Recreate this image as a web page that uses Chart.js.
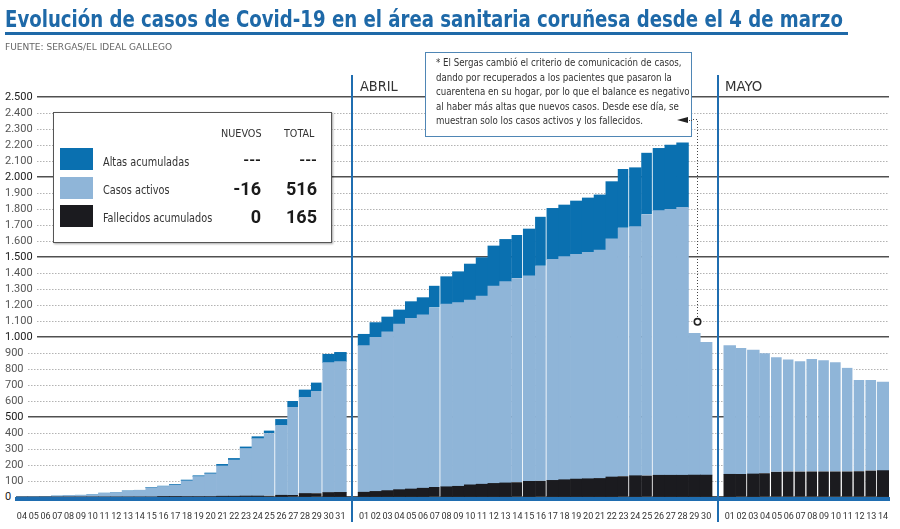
<!DOCTYPE html>
<html lang="es">
<head>
<meta charset="utf-8">
<title>Evolución de casos de Covid-19 en el área sanitaria coruñesa</title>
<script src="https://cdn.jsdelivr.net/npm/chart.js@4.4.1/dist/chart.umd.min.js"></script>
<style>
  html, body { margin: 0; padding: 0; background: #fff; }
  body { width: 900px; height: 529px; position: relative; overflow: hidden;
         font-family: 'Liberation Sans Narrow', 'DejaVu Sans Condensed', Roboto, sans-serif; color: #333; }
  #grafico { position: absolute; left: 0; top: 0; }
  .fit { display: inline-block; transform-origin: 0 0; white-space: nowrap; }
  #titulo { position: absolute; left: 5px; top: 6px; font-weight: bold; font-size: 23px; color: #1e69a8; line-height: 26px; }
  #raya { position: absolute; left: 5px; top: 32px; width: 843px; height: 3px; background: #1e69a8; }
  #fuente { position: absolute; left: 5px; top: 41px; font-size: 9.5px; color: #666; line-height: 12px; }
  .mes { position: absolute; top: 78px; font-size: 14px; color: #333; line-height: 16px; }
  .tick_y { position: absolute; left: 4px; padding: 0 4px 0 1px; background: #fff; font-family: Roboto, sans-serif;
            font-size: 11px; line-height: 14px; color: #555; white-space: nowrap; }
  #leyenda { position: absolute; left: 53px; top: 112px; width: 279px; height: 131px; box-sizing: border-box;
             background: #fff; border: 1px solid #555; box-shadow: 1px 1px 2px rgba(0,0,0,.35); z-index: 2; }
  #leyenda > div { position: absolute; white-space: nowrap; }
  .cab { top: 14px; font-size: 11px; color: #333; line-height: 13px; }
  .muestra { left: 6px; width: 33px; height: 22px; }
  .nombre { left: 49px; font-size: 12px; color: #333; line-height: 16px; }
  .cifra { font-family: Roboto, sans-serif; font-weight: bold; font-size: 18px; color: #1a1a1a;
           text-align: right; line-height: 20px; }
  #nota { position: absolute; left: 425px; top: 52px; width: 267px; height: 85px; box-sizing: border-box;
          background: #fff; border: 1px solid #4f86b5; }
  #nota_texto { position: absolute; left: 10px; top: 3px; font-size: 11px; line-height: 14.5px; color: #333; }
  #flecha { position: absolute; left: 251px; top: 64px; width: 0; height: 0;
            border-right: 11px solid #222; border-top: 3.5px solid transparent; border-bottom: 3.5px solid transparent; }
  #puntos { position: absolute; left: 263px; top: 67px; width: 3px; border-top: 1px dotted #444; }
</style>
</head>
<body>
<canvas id="grafico" width="900" height="529"></canvas>
<div id="titulo" class="fit">Evolución de casos de Covid-19 en el área sanitaria coruñesa desde el 4 de marzo</div>
<div id="raya"></div>
<div id="fuente" class="fit">FUENTE: SERGAS/EL IDEAL GALLEGO</div>
<div id="mes_abril" class="mes fit" style="left:360px">ABRIL</div>
<div id="mes_mayo" class="mes fit" style="left:725px">MAYO</div>

<div id="leyenda">
  <div id="cab_nuevos" class="cab fit" style="left:167px">NUEVOS</div>
  <div id="cab_total" class="cab fit" style="left:230px">TOTAL</div>
  <div class="muestra" style="top:35px;background:#0a70b0"></div>
  <div class="muestra" style="top:64px;background:#8fb5d8"></div>
  <div class="muestra" style="top:92px;background:#1b1b1f"></div>
  <div id="nom_altas" class="nombre fit" style="top:41px">Altas acumuladas</div>
  <div id="nom_activos" class="nombre fit" style="top:69px">Casos activos</div>
  <div id="nom_fallecidos" class="nombre fit" style="top:97px">Fallecidos acumulados</div>
  <div class="cifra" style="left:150px;width:57px;top:37px;font-size:15px">---</div>
  <div class="cifra" style="left:200px;width:63px;top:37px;font-size:15px">---</div>
  <div class="cifra" style="left:150px;width:57px;top:66px">-16</div>
  <div class="cifra" style="left:200px;width:63px;top:66px">516</div>
  <div class="cifra" style="left:150px;width:57px;top:94px">0</div>
  <div class="cifra" style="left:200px;width:63px;top:94px">165</div>
</div>

<div id="nota"><div id="nota_texto" class="fit">* El Sergas cambió el criterio de comunicación de casos,<br>dando por recuperados a los pacientes que pasaron la<br>cuarentena en su hogar, por lo que el balance es negativo<br>al haber más altas que nuevos casos. Desde ese día, se<br>muestran solo los casos activos y los fallecidos.</div><div id="flecha"></div><div id="puntos"></div></div>

<script>
// Días de cada mes (categorías del eje X)
const dias_marzo = ['04','05','06','07','08','09','10','11','12','13','14','15','16','17','18','19','20','21','22','23','24','25','26','27','28','29','30','31'];
const dias_abril = ['01','02','03','04','05','06','07','08','09','10','11','12','13','14','15','16','17','18','19','20','21','22','23','24','25','26','27','28','29','30'];
const dias_mayo = ['01','02','03','04','05','06','07','08','09','10','11','12','13','14'];

// Fallecidos acumulados
const fallecidos_marzo = [0,0,0,0,0,0,0,0,0,0,0,0,2,2,3,3,3,5,5,6,6,8,11,13,22,24,28,29];
const fallecidos_abril = [30,35,40,46,50,55,62,64,67,76,80,85,88,92,98,101,104,108,112,114,116,125,130,133,134,136,136,136,137,137];
const fallecidos_mayo = [142,143,144,148,158,159,159,160,160,160,160,161,165,165];

// Casos activos
const activos_marzo = [2,2,3,6,10,11,14,24,28,38,42,58,64,73,98,125,142,189,226,297,359,390,437,550,601,639,812,817];
const activos_abril = [916,963,993,1035,1067,1083,1123,1142,1148,1155,1176,1234,1258,1275,1285,1344,1381,1394,1405,1415,1428,1488,1553,1557,1633,1654,1662,1674,886,830];
const activos_mayo = [804,788,775,750,715,701,689,702,694,682,648,570,566,554];

// Altas acumuladas (desde el 29 de abril ya no se muestran)
const altas_marzo = [0,0,0,0,0,0,0,0,0,0,0,2,2,4,5,5,5,10,10,10,12,17,37,37,46,52,52,58];
const altas_abril = [71,92,92,88,104,108,136,171,193,225,240,250,264,270,292,307,319,323,333,340,344,358,367,368,385,389,402,404,null,null];
const altas_mayo = [null,null,null,null,null,null,null,null,null,null,null,null,null,null];

// Días tras los que la barra lleva un filete blanco
const cortes_marzo = ['25','27','29'];
const cortes_abril = ['07','14','16','23','25'];
const cortes_mayo = ['02','04','05','06','07','08','09','10','11','12','13'];

const AZUL_OSCURO = '#0a70b0';
const AZUL_CLARO = '#8fb5d8';
const NEGRO = '#1b1b1f';
const AZUL_LINEA = '#1f6db0';

// un hueco vacío entre meses
const etiquetas = [...dias_marzo, '', ...dias_abril, '', ...dias_mayo];
const serie = (m, a, my) => [...m, null, ...a, null, ...my];
const inicio_abril = dias_marzo.length + 1;
const inicio_mayo = inicio_abril + dias_abril.length + 1;
const huecos = [inicio_abril - 1, inicio_mayo - 1];

const cortes = new Set([
  ...cortes_marzo.map(d => dias_marzo.indexOf(d)),
  ...cortes_abril.map(d => inicio_abril + dias_abril.indexOf(d)),
  ...cortes_mayo.map(d => inicio_mayo + dias_mayo.indexOf(d))
]);
const borde = ctx => cortes.has(ctx.dataIndex) ? {top: 0, right: 1.5, bottom: 0, left: 0} : 0;

function miles (v) {
  if (v < 1000) return String(v);
  return Math.floor(v / 1000) + '.' + String(v % 1000).padStart(3, '0');
}

// ajusta un texto al ancho que ocupa en el original
function ajustar (id, ancho) {
  const el = document.getElementById(id);
  const k = ancho / el.offsetWidth;
  el.style.transform = 'scaleX(' + k + ')';
  return k;
}
ajustar('titulo', 838);
ajustar('fuente', 167);
ajustar('mes_abril', 38);
ajustar('mes_mayo', 37);
ajustar('cab_nuevos', 41);
ajustar('cab_total', 30);
ajustar('nota_texto', 254);
const k_nombres = ajustar('nom_fallecidos', 109);
['nom_altas', 'nom_activos'].forEach(id => {
  document.getElementById(id).style.transform = 'scaleX(' + k_nombres + ')';
});

const decorado = {
  id: 'decorado',
  afterDatasetsDraw (chart) {
    const {ctx, chartArea: a, scales: {x, y}} = chart;
    ctx.save();
    // línea base
    ctx.fillStyle = AZUL_LINEA;
    ctx.fillRect(a.left - 1, a.bottom, a.right - a.left + 2, 4);
    // separadores de mes
    huecos.forEach(i => {
      const px = Math.round(x.getPixelForValue(i));
      ctx.fillRect(px - 1, 75, 2, 447);
    });
    // llamada de la nota al 29 de abril
    const cx = Math.round(x.getPixelForValue(inicio_abril + dias_abril.indexOf('29')) + 3) + 0.5;
    const cy = y.getPixelForValue(1095);
    ctx.strokeStyle = '#444';
    ctx.lineWidth = 1;
    ctx.setLineDash([1, 2]);
    ctx.beginPath();
    ctx.moveTo(690, 119.5);
    ctx.lineTo(cx, 119.5);
    ctx.lineTo(cx, cy - 4);
    ctx.stroke();
    ctx.setLineDash([]);
    ctx.beginPath();
    ctx.arc(cx, cy, 3.2, 0, Math.PI * 2);
    ctx.fillStyle = '#fff';
    ctx.fill();
    ctx.lineWidth = 1.6;
    ctx.strokeStyle = '#222';
    ctx.stroke();
    ctx.restore();
  }
};

Chart.defaults.font.family = "Roboto, sans-serif";

const grafico = new Chart(document.getElementById('grafico'), {
  type: 'bar',
  data: {
    labels: etiquetas,
    datasets: [
      {label: 'Fallecidos acumulados', data: serie(fallecidos_marzo, fallecidos_abril, fallecidos_mayo), backgroundColor: NEGRO},
      {label: 'Casos activos', data: serie(activos_marzo, activos_abril, activos_mayo), backgroundColor: AZUL_CLARO},
      {label: 'Altas acumuladas', data: serie(altas_marzo, altas_abril, altas_mayo), backgroundColor: AZUL_OSCURO}
    ].map(d => Object.assign(d, {
      yAxisID: 'y', barPercentage: 1, categoryPercentage: 1,
      borderColor: '#fff', borderWidth: borde, borderSkipped: false
    }))
  },
  options: {
    responsive: false,
    animation: false,
    events: [],
    layout: {padding: {top: 97, left: 16, right: 11, bottom: 0}},
    plugins: {legend: {display: false}, tooltip: {enabled: false}},
    scales: {
      x: {
        stacked: true,
        offset: true,
        grid: {display: false, drawTicks: false},
        border: {display: false},
        ticks: {autoSkip: false, maxRotation: 0, minRotation: 0, padding: 8, color: '#333',
                font: {size: 9, lineHeight: 2.6}},
        afterFit: s => { s.height = 32; }
      },
      y: {
        stacked: true,
        position: 'left',
        min: 0,
        max: 2500,
        ticks: {stepSize: 100, autoSkip: false, display: false},
        grid: {color: c => (c.tick && c.tick.value % 500 === 0) ? 'rgba(0,0,0,0)' : '#b3b3b3', lineWidth: 1, drawTicks: false},
        border: {display: false, dash: [1.5, 1.5]},
        afterFit: s => { s.width = 0; }
      },
      y2: {
        position: 'left',
        min: 0,
        max: 2500,
        ticks: {display: false, stepSize: 500},
        grid: {color: '#505050', lineWidth: 1.5, drawTicks: false},
        border: {display: false},
        afterFit: s => { s.width = 0; }
      }
    }
  },
  plugins: [decorado]
});

// etiquetas del eje Y, a la izquierda del área de barras, tomadas de la escala
const ejeY = grafico.scales.y;
ejeY.ticks.forEach(t => {
  const d = document.createElement('div');
  d.className = 'tick_y';
  d.textContent = miles(t.value);
  d.style.top = (ejeY.getPixelForValue(t.value) - 7) + 'px';
  if (t.value % 500 === 0) d.style.color = '#1a1a1a';
  document.body.appendChild(d);
});
</script>
</body>
</html>
